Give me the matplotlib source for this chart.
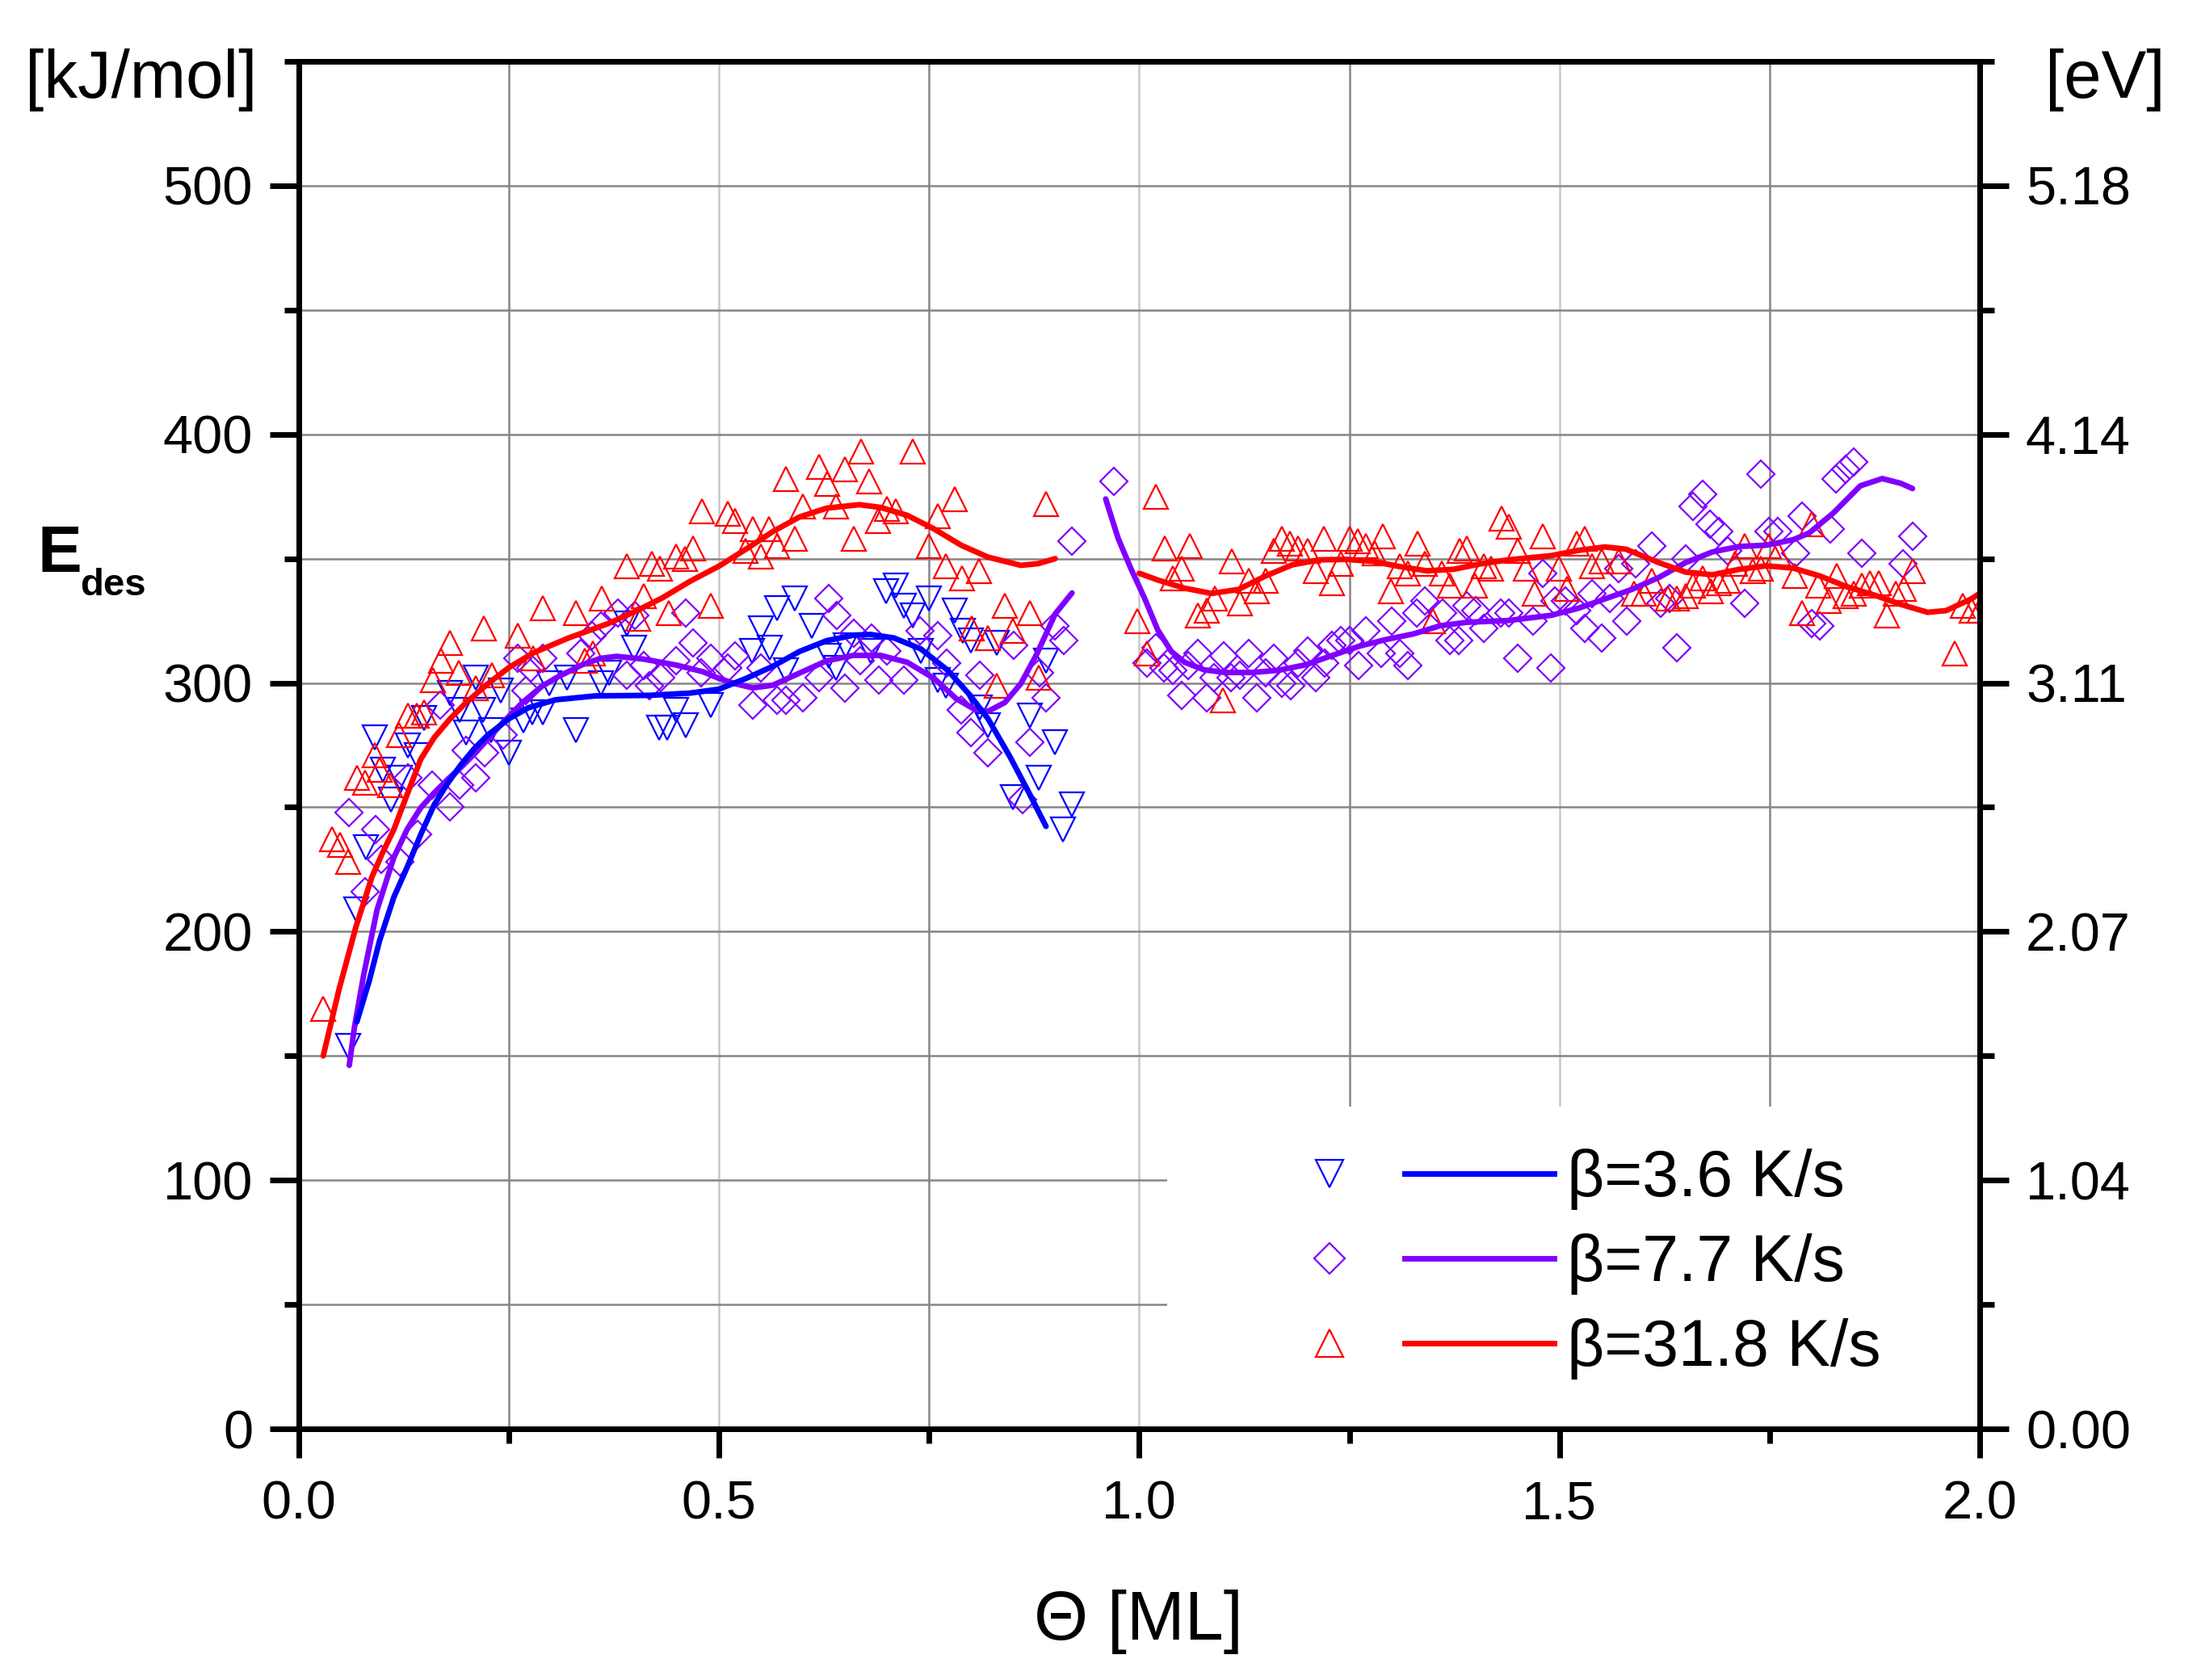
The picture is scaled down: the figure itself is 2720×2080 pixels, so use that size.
import matplotlib
matplotlib.use("Agg")
import matplotlib.pyplot as plt
from matplotlib.patches import Rectangle
from matplotlib.ticker import MultipleLocator
from matplotlib.legend_handler import HandlerTuple

# =====================
# Data
# =====================
# beta = 3.6 K/s, measured points
theta_36 = [0.059, 0.068, 0.080, 0.090, 0.100, 0.110, 0.120, 0.130, 0.140, 0.149,
            0.180, 0.191, 0.199, 0.210, 0.219, 0.229, 0.240, 0.250, 0.267, 0.278,
            0.290, 0.298, 0.319, 0.330, 0.359, 0.369, 0.390, 0.399, 0.429, 0.438,
            0.449, 0.460, 0.490, 0.539, 0.550, 0.560, 0.569, 0.580, 0.590, 0.610,
            0.630, 0.639, 0.651, 0.680, 0.699, 0.710, 0.720, 0.730, 0.740, 0.750,
            0.760, 0.770, 0.780, 0.790, 0.800, 0.810, 0.820, 0.830, 0.850, 0.870,
            0.880, 0.889, 0.900, 0.909, 0.920]
e_36 = [154, 209, 234, 278, 265, 253, 262, 275, 271, 286,
        296, 289, 280, 302, 289, 281, 297, 272, 285, 288,
        288, 300, 302, 281, 300, 304, 324, 314, 282, 282,
        289, 283, 291, 313, 322, 314, 330, 305, 334, 323,
        311, 306, 315, 313, 337, 339, 331, 327, 313, 334,
        301, 299, 329, 321, 317, 290, 283, 316, 254, 287,
        262, 309, 276, 241, 251]

# beta = 7.7 K/s, measured points
theta_77 = [0.060, 0.079, 0.091, 0.098, 0.120, 0.130, 0.141, 0.159, 0.168, 0.180,
            0.191, 0.199, 0.210, 0.221, 0.243, 0.260, 0.270, 0.276, 0.290, 0.335,
            0.349, 0.359, 0.380, 0.390, 0.400, 0.410, 0.417, 0.431, 0.449, 0.460,
            0.469, 0.479, 0.490, 0.510, 0.519, 0.540, 0.550, 0.569, 0.580, 0.600,
            0.619, 0.630, 0.640, 0.650, 0.660, 0.668, 0.681, 0.690, 0.700, 0.720,
            0.739, 0.760, 0.771, 0.788, 0.800, 0.810, 0.820, 0.851, 0.861, 0.870,
            0.881, 0.889, 0.900, 0.910, 0.920, 0.970,
            1.009, 1.020, 1.029, 1.040, 1.050, 1.058, 1.070, 1.080, 1.089, 1.100,
            1.109, 1.120, 1.130, 1.140, 1.150, 1.160, 1.170, 1.180, 1.189, 1.200,
            1.210, 1.221, 1.229, 1.240, 1.250, 1.261, 1.270, 1.288, 1.300, 1.310,
            1.320, 1.330, 1.340, 1.361, 1.370, 1.380, 1.390, 1.400, 1.410, 1.430,
            1.440, 1.450, 1.469, 1.480, 1.490, 1.494, 1.507, 1.520, 1.530, 1.539,
            1.550, 1.560, 1.570, 1.580, 1.591, 1.610, 1.620, 1.631, 1.640, 1.650,
            1.659, 1.670, 1.679, 1.690, 1.700, 1.720, 1.740, 1.749, 1.760, 1.781,
            1.789, 1.800, 1.810, 1.822, 1.829, 1.840, 1.850, 1.860, 1.909, 1.920]
e_77 = [248, 216, 241, 229, 228, 262, 239, 259, 291, 250,
        259, 273, 262, 272, 279, 310, 297, 306, 310, 312,
        319, 323, 328, 303, 327, 307, 299, 302, 309, 328,
        316, 304, 310, 306, 311, 291, 306, 293, 293, 294,
        302, 334, 327, 298, 320, 309, 318, 301, 313, 301,
        321, 319, 308, 289, 280, 303, 272, 315, 253, 276,
        304, 294, 323, 317, 357, 381,
        308, 314, 306, 305, 295, 307, 312, 294, 302, 311,
        302, 303, 312, 294, 304, 310, 300, 299, 308, 313,
        302, 308, 315, 317, 317, 307, 321, 312, 325, 312,
        307, 328, 333, 328, 317, 317, 331, 329, 322, 328,
        328, 310, 325, 344, 306, 333, 333, 329, 322, 336,
        318, 334, 346, 325, 348, 355, 332, 334, 314, 350,
        371, 376, 364, 361, 353, 332, 384, 361, 361, 352,
        367, 324, 323, 362, 382, 386, 389, 352, 348, 359]

# beta = 31.8 K/s, measured points
theta_318 = [0.029, 0.039, 0.049, 0.059, 0.069, 0.079, 0.090, 0.096, 0.109, 0.119,
             0.130, 0.140, 0.149, 0.160, 0.169, 0.180, 0.190, 0.210, 0.220, 0.230,
             0.260, 0.279, 0.290, 0.330, 0.340, 0.350, 0.360, 0.390, 0.404, 0.410,
             0.420, 0.430, 0.440, 0.449, 0.459, 0.469, 0.480, 0.490, 0.510, 0.519,
             0.531, 0.540, 0.550, 0.559, 0.569, 0.580, 0.590, 0.600, 0.619, 0.629,
             0.639, 0.650, 0.660, 0.669, 0.679, 0.689, 0.700, 0.710, 0.730, 0.750,
             0.760, 0.770, 0.780, 0.789, 0.801, 0.809, 0.820, 0.830, 0.840, 0.850,
             0.870, 0.880, 0.889,
             0.998, 1.009, 1.020, 1.030, 1.040, 1.050, 1.060, 1.070, 1.080, 1.090,
             1.099, 1.110, 1.120, 1.130, 1.140, 1.150, 1.160, 1.170, 1.179, 1.189,
             1.200, 1.210, 1.220, 1.229, 1.240, 1.250, 1.260, 1.270, 1.280, 1.290,
             1.299, 1.310, 1.320, 1.331, 1.340, 1.349, 1.360, 1.370, 1.381, 1.390,
             1.399, 1.410, 1.419, 1.431, 1.440, 1.450, 1.460, 1.470, 1.480, 1.499,
             1.509, 1.520, 1.530, 1.539, 1.550, 1.570, 1.589, 1.600, 1.610, 1.629,
             1.640, 1.650, 1.659, 1.670, 1.680, 1.690, 1.700, 1.709, 1.720, 1.730,
             1.740, 1.749, 1.760, 1.780, 1.789, 1.800, 1.808, 1.820, 1.830, 1.840,
             1.850, 1.860, 1.869, 1.880, 1.889, 1.900, 1.910, 1.920, 1.970, 1.980,
             1.990, 2.000]
e_318 = [169, 237, 235, 228, 262, 260, 271, 265, 259, 279,
         287, 287, 288, 301, 309, 316, 304, 298, 322, 303,
         319, 310, 330, 328, 309, 312, 334, 347, 326, 335,
         348, 346, 328, 351, 350, 354, 369, 331, 368, 365,
         353, 362, 351, 362, 355, 382, 358, 371, 387, 380,
         371, 386, 358, 393, 381, 365, 370, 369, 393, 355,
         367, 347, 374, 342, 322, 345, 318, 299, 331, 321,
         328, 302, 372,
         325, 312, 375, 354, 342, 346, 355, 327, 329, 334,
         293, 349, 332, 341, 337, 341, 353, 358, 356, 354,
         353, 345, 358, 340, 348, 358, 357, 355, 352, 359,
         337, 347, 344, 356, 348, 325, 344, 339, 353, 354,
         339, 347, 346, 366, 363, 353, 346, 336, 359, 346,
         338, 356, 358, 347, 349, 349, 336, 336, 341, 334,
         334, 335, 339, 342, 337, 340, 341, 348, 355, 345,
         346, 355, 352, 343, 328, 364, 339, 333, 343, 335,
         336, 339, 340, 340, 327, 336, 338, 345, 312, 331,
         329, 329]

# smoothed curves
fit36_x = [0.069, 0.084, 0.096, 0.113, 0.129, 0.145, 0.161, 0.177, 0.193, 0.209,
           0.225, 0.250, 0.273, 0.305, 0.353, 0.417, 0.465, 0.500, 0.532, 0.564,
           0.596, 0.628, 0.660, 0.680, 0.708, 0.740, 0.772, 0.798, 0.820, 0.846,
           0.868, 0.889]
fit36_y = [163.7, 180.5, 196.3, 213.8, 226.0, 239.0, 251.0, 259.6, 267.2, 273.7,
           279.1, 285.6, 290.0, 293.2, 294.8, 295.0, 295.9, 297.5, 301.8, 306.7,
           312.7, 317.0, 319.2, 319.5, 318.1, 313.7, 305.1, 295.3, 285.6, 270.4,
           256.3, 242.3]

fit77a_x = [0.060, 0.066, 0.077, 0.093, 0.113, 0.129, 0.145, 0.161, 0.177, 0.193,
            0.209, 0.225, 0.244, 0.266, 0.289, 0.308, 0.337, 0.359, 0.378, 0.410,
            0.449, 0.481, 0.500, 0.519, 0.540, 0.564, 0.596, 0.628, 0.660, 0.692,
            0.724, 0.756, 0.782, 0.804, 0.820, 0.840, 0.859, 0.878, 0.900, 0.920]
fit77a_y = [146.2, 161.2, 182.3, 208.7, 229.8, 241.2, 249.8, 255.8, 261.2, 266.1,
            271.5, 277.5, 284.5, 292.1, 298.6, 302.4, 307.3, 309.9, 310.7, 309.6,
            307.2, 304.5, 301.8, 299.7, 298.0, 299.1, 304.0, 308.9, 311.1, 311.1,
            308.3, 301.8, 293.7, 289.4, 288.6, 292.1, 299.7, 311.6, 327.8, 336.2]
fit77b_x = [0.960, 0.975, 0.990, 1.006, 1.022, 1.038, 1.054, 1.077, 1.102, 1.134,
            1.166, 1.198, 1.230, 1.262, 1.294, 1.326, 1.358, 1.390, 1.439, 1.490,
            1.522, 1.554, 1.586, 1.618, 1.650, 1.682, 1.714, 1.746, 1.778, 1.797,
            1.826, 1.858, 1.884, 1.906, 1.920]
fit77b_y = [374.0, 358.0, 346.0, 334.3, 321.3, 312.7, 308.3, 305.3, 304.2, 304.2,
            305.1, 307.3, 311.1, 314.8, 317.5, 319.7, 323.0, 324.4, 325.1, 327.2,
            330.0, 333.8, 337.6, 342.4, 348.4, 352.7, 354.9, 355.4, 357.6, 360.3,
            368.4, 379.3, 382.2, 380.3, 378.2]

fit318a_x = [0.029, 0.048, 0.068, 0.087, 0.100, 0.113, 0.129, 0.145, 0.161, 0.180,
             0.199, 0.225, 0.250, 0.279, 0.321, 0.369, 0.401, 0.433, 0.465, 0.500,
             0.532, 0.564, 0.596, 0.628, 0.667, 0.692, 0.724, 0.756, 0.788, 0.820,
             0.859, 0.880, 0.900]
fit318a_y = [150.0, 177.0, 202.0, 222.0, 232.0, 241.0, 255.3, 269.3, 278.0, 285.6,
             292.1, 299.7, 306.2, 312.1, 318.1, 324.0, 328.9, 334.3, 340.8, 347.0,
             353.8, 360.9, 366.8, 370.3, 371.7, 370.6, 367.4, 361.9, 355.4, 350.6,
             347.3, 348.0, 350.0]
fit318b_x = [1.000, 1.022, 1.054, 1.086, 1.118, 1.150, 1.182, 1.214, 1.246, 1.278,
             1.310, 1.342, 1.374, 1.406, 1.439, 1.490, 1.522, 1.554, 1.579, 1.618,
             1.650, 1.682, 1.714, 1.746, 1.778, 1.810, 1.842, 1.874, 1.906, 1.938,
             1.960, 1.990, 2.000]
fit318b_y = [344.1, 341.4, 338.1, 336.0, 337.6, 343.0, 347.5, 349.5, 349.7, 348.9,
             346.8, 345.1, 345.7, 347.9, 349.5, 351.2, 353.3, 354.7, 353.8, 348.4,
             344.6, 343.5, 345.7, 347.1, 346.2, 343.0, 338.7, 335.4, 331.6, 328.4,
             329.1, 333.8, 336.0]

series_labels = ["\u03b2=3.6 K/s", "\u03b2=7.7 K/s", "\u03b2=31.8 K/s"]
x_ticks = [0.0, 0.5, 1.0, 1.5, 2.0]
x_ticklabels = ["0.0", "0.5", "1.0", "1.5", "2.0"]
kj_ticks = [0, 100, 200, 300, 400, 500]
ev_ticklabels = ["0.00", "1.04", "2.07", "3.11", "4.14", "5.18"]

# =====================
# Style
# =====================
plt.rcParams['font.family'] = ['Liberation Sans', 'DejaVu Sans']
BLUE = "#0000ff"
PURPLE = "#8000ff"
RED = "#ff0000"
MS_TRI = 21
MS_DIA = 17
MEW = 1.6
LW = 5
SPINE_W = 5

fig = plt.figure(figsize=(27.2, 20.8), dpi=100, facecolor="white")
ax = fig.add_axes([370 / 2720, 1 - 1769 / 2080, 2081 / 2720, 1693 / 2080])

# =====================
# Markers + fitted lines
# =====================
ax.plot(theta_36, e_36, ls="none", marker="v", ms=MS_TRI, mfc="none", mec=BLUE, mew=MEW, zorder=3)
ax.plot(theta_77, e_77, ls="none", marker="D", ms=MS_DIA, mfc="none", mec=PURPLE, mew=MEW, zorder=3)
ax.plot(theta_318, e_318, ls="none", marker="^", ms=MS_TRI, mfc="none", mec=RED, mew=MEW, zorder=3)

ax.plot(fit77a_x, fit77a_y, color=PURPLE, lw=LW, solid_capstyle="round", zorder=4)
ax.plot(fit77b_x, fit77b_y, color=PURPLE, lw=LW, solid_capstyle="round", zorder=4)
ax.plot(fit36_x, fit36_y, color=BLUE, lw=LW, solid_capstyle="round", zorder=5)
ax.plot(fit318a_x, fit318a_y, color=RED, lw=LW, solid_capstyle="round", zorder=6)
ax.plot(fit318b_x, fit318b_y, color=RED, lw=LW, solid_capstyle="round", zorder=6)

# =====================
# Axes, ticks, grid
# =====================
ax.set_xlim(0, 2.0)
ax.set_ylim(0, 550)
ax.set_xticks(x_ticks)
ax.set_xticklabels(x_ticklabels)
ax.xaxis.set_minor_locator(MultipleLocator(0.25))
ax.set_yticks(kj_ticks)
ax.yaxis.set_minor_locator(MultipleLocator(50))

ax.set_axisbelow(True)
ax.grid(True, which="major", axis="x", color="#c8c8c8", lw=1.8)
ax.grid(True, which="minor", axis="x", color="#858585", lw=1.8)
ax.grid(True, which="both", axis="y", color="#858585", lw=1.8)

for s in ax.spines.values():
    s.set_linewidth(SPINE_W)
ax.tick_params(which="major", direction="out", length=26, width=SPINE_W, labelsize=48)
ax.tick_params(which="minor", direction="out", length=13, width=SPINE_W)
ax.tick_params(axis="x", which="major", pad=20)
ax.tick_params(axis="y", which="major", pad=15)
ax.tick_params(top=False, right=False, which="both")

ax2 = ax.twinx()
ax2.set_ylim(0, 550)
ax2.set_yticks(kj_ticks)
ax2.set_yticklabels(ev_ticklabels)
ax2.yaxis.set_minor_locator(MultipleLocator(50))
for s in ax2.spines.values():
    s.set_linewidth(SPINE_W)
ax2.tick_params(which="major", direction="out", length=26, width=SPINE_W, labelsize=48, pad=15)
ax2.tick_params(which="minor", direction="out", length=13, width=SPINE_W)

# white area behind the legend hides the grid there
ax.add_patch(Rectangle((0.5166, 0.0), 0.4834, 0.2357, transform=ax.transAxes,
                       facecolor="white", edgecolor="none", zorder=1))

# =====================
# Legend (marker, then line, then text)
# =====================
handles = []
for c, m, ms in [(BLUE, "v", MS_TRI), (PURPLE, "D", MS_DIA), (RED, "^", MS_TRI)]:
    mk, = ax.plot([], [], ls="none", marker=m, ms=ms, mfc="none", mec=c, mew=MEW)
    ln, = ax.plot([], [], color=c, lw=LW)
    handles.append((mk, ln))
ax.legend(handles, series_labels, handler_map={tuple: HandlerTuple(ndivide=None, pad=0)},
          loc="center", bbox_to_anchor=(0.755, 0.1205), frameon=False, fontsize=58,
          handlelength=4.6, handletextpad=0.2, labelspacing=0.36, markerscale=1.15)

# =====================
# Labels
# =====================
fig.text(175 / 2720, 1 - 99 / 2080, "[kJ/mol]", fontsize=60, ha="center", va="center")
fig.text(2606 / 2720, 1 - 99 / 2080, "[eV]", fontsize=60, ha="center", va="center")
fig.text(47 / 2720, 1 - 708 / 2080, "E", fontsize=59, fontweight="bold", ha="left", va="baseline")
fig.text(99 / 2720, 1 - 737 / 2080, "des", fontsize=34, fontweight="bold", ha="left", va="baseline")
fig.text(1409 / 2720, 1 - 2030 / 2080, "\u0398 [ML]", fontsize=62, ha="center", va="baseline")

fig.savefig("out.png", dpi=100, facecolor="white")
